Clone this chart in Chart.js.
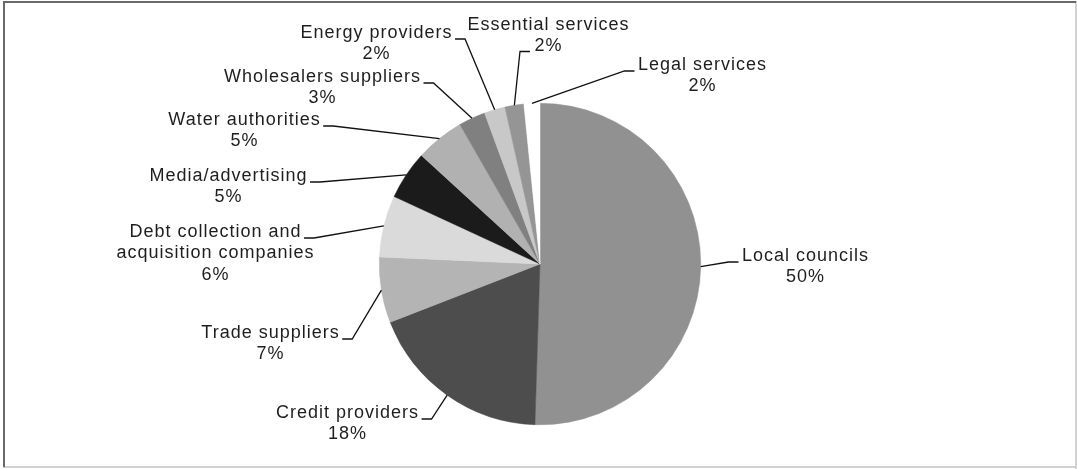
<!DOCTYPE html>
<html>
<head>
<meta charset="utf-8">
<script src="https://cdn.jsdelivr.net/npm/chart.js@4"></script>
<style>
  html, body { margin: 0; padding: 0; background: #fff; }
  #wrap { position: relative; width: 1077px; height: 469px; }
</style>
</head>
<body>
<div id="wrap"><canvas id="pieChart" width="1077" height="469"></canvas></div>
<script>
// chart data
var categories = ["Local councils", "Credit providers", "Trade suppliers",
  "Debt collection and acquisition companies", "Media/advertising", "Water authorities",
  "Wholesalers suppliers", "Energy providers", "Essential services", "Legal services"];
var shares = [50.5, 18.6, 6.6, 6.2, 4.9, 4.9, 2.7, 2.1, 1.9, 1.6];
var shareLabels = ["50%", "18%", "7%", "6%", "5%", "5%", "3%", "2%", "2%", "2%"];

// how the label text wraps
var labelLines = [["Local councils"], ["Credit providers"], ["Trade suppliers"],
  ["Debt collection and", "acquisition companies"], ["Media/advertising"], ["Water authorities"],
  ["Wholesalers suppliers"], ["Energy providers"], ["Essential services"], ["Legal services"]];

var sliceColors = ["#919191", "#4d4d4d", "#b4b4b4", "#dadada", "#1b1b1b",
  "#b1b1b1", "#808080", "#c8c8c8", "#959595", "#ffffff"];

// label placement: offset of the first text line from pie centre, and where the leader joins
var labelLayout = [
  { dx: 265, dy: -8, side: "left" },
  { dx: -193, dy: 149, side: "right" },
  { dx: -270, dy: 69, side: "right" },
  { dx: -325, dy: -32, side: "right" },
  { dx: -312, dy: -88, side: "right" },
  { dx: -296, dy: -144, side: "right" },
  { dx: -218, dy: -187, side: "right" },
  { dx: -164, dy: -231, side: "right" },
  { dx: 8, dy: -239, side: "lastleft" },
  { dx: 162, dy: -199, side: "left" }
];

var FONT = "18px 'Liberation Sans', Arial, sans-serif";
var LINE_H = 21.5;
var SPACING = 1; // the original text is set a bit loose

// frame around the picture
var framePlugin = {
  id: "frame",
  beforeDraw: function (chart) {
    var ctx = chart.ctx;
    ctx.save();
    ctx.fillStyle = "#ffffff";
    ctx.fillRect(0, 0, chart.width, chart.height);
    ctx.fillStyle = "#d2d2d2";
    ctx.fillRect(1075, 1, 2, 468);
    ctx.fillRect(3, 466, 1074, 2);
    ctx.fillStyle = "#6a6a6a";
    ctx.fillRect(3, 1, 1073, 2);
    ctx.fillRect(3, 1, 2, 466);
    ctx.restore();
  }
};

// labels with leader lines
var labelPlugin = {
  id: "pieLabels",
  afterDatasetsDraw: function (chart) {
    var ctx = chart.ctx;
    var arcs = chart.getDatasetMeta(0).data;
    ctx.save();
    ctx.font = FONT;
    ctx.letterSpacing = SPACING + "px";
    ctx.textAlign = "center";
    ctx.textBaseline = "middle";
    arcs.forEach(function (arc, i) {
      var cx = arc.x, cy = arc.y;
      var mid = (arc.startAngle + arc.endAngle) / 2;
      var ex = cx + Math.cos(mid) * arc.outerRadius;
      var ey = cy + Math.sin(mid) * arc.outerRadius;
      var lay = labelLayout[i];
      var tx = cx + lay.dx, ty = cy + lay.dy;
      var lines = labelLines[i].concat([shareLabels[i]]);

      ctx.fillStyle = "#1e1e1e";
      lines.forEach(function (ln, k) {
        ctx.fillText(ln, tx + SPACING / 2, ty + k * LINE_H);
      });

      // leader join point next to the text
      var ax, ay, bx;
      if (lay.side === "lastleft") {
        var last = lines.length - 1;
        var w = ctx.measureText(lines[last]).width;
        ax = tx - w / 2 - 4;
        ay = ty + last * LINE_H + 5;
        bx = ax - 10;
      } else {
        var w0 = ctx.measureText(lines[0]).width;
        ay = ty + 6;
        if (lay.side === "left") {
          ax = tx - w0 / 2 - 3;
          bx = ax - 10;
        } else {
          ax = tx + w0 / 2 + 3;
          bx = ax + 10;
        }
      }
      ctx.strokeStyle = "#111";
      ctx.lineWidth = 1.3;
      ctx.beginPath();
      ctx.moveTo(ax, ay);
      ctx.lineTo(bx, ay);
      ctx.lineTo(ex, ey);
      ctx.stroke();
    });
    ctx.restore();
  }
};

var ctx = document.getElementById("pieChart").getContext("2d");
var myPieChart = new Chart(ctx, {
  type: "pie",
  data: {
    labels: categories,
    datasets: [
      {
        data: shares,
        backgroundColor: sliceColors,
        borderColor: sliceColors,
        borderWidth: 0.5
      }
    ]
  },
  options: {
    responsive: false,
    maintainAspectRatio: false,
    animation: false,
    layout: {
      padding: { left: 200, right: 197, top: 103, bottom: 44 }
    },
    plugins: {
      legend: { display: false },
      tooltip: { enabled: false }
    }
  },
  plugins: [framePlugin, labelPlugin]
});
</script>
</body>
</html>
